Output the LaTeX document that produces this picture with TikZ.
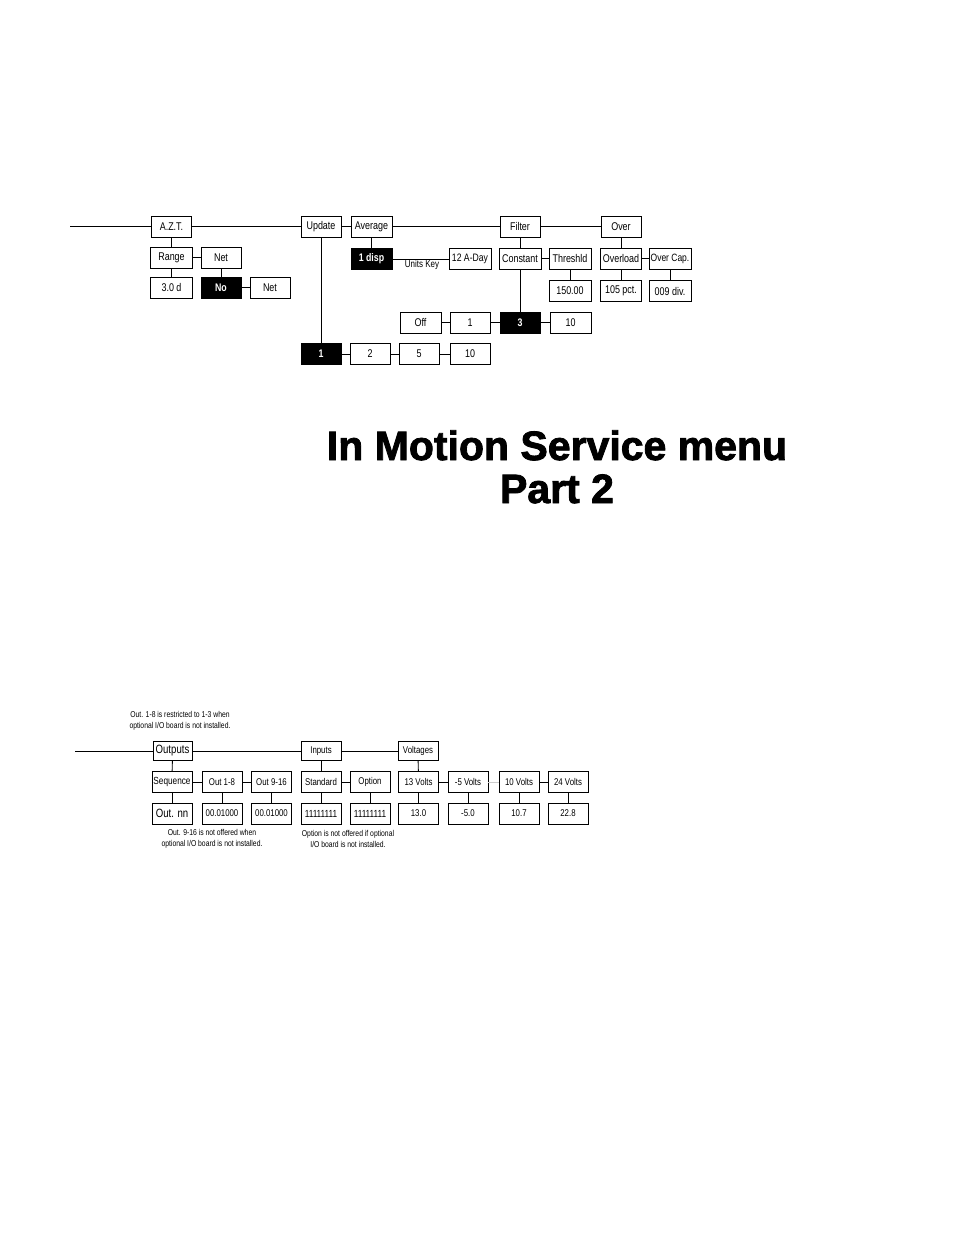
\documentclass[tikz,border=0pt]{standalone}
\usepackage{fontspec}
\setmainfont{Liberation Sans}
\newfontfamily\cond[FakeStretch=0.8]{Liberation Sans}
\newfontfamily\heavy[BoldFeatures={FakeBold=2}]{Liberation Sans}
\begin{document}
\begin{tikzpicture}[x=1pt,y=-1pt,
  bx/.style={draw, line width=0.9pt, minimum width=40pt, minimum height=21pt, inner sep=0pt, font=\cond\fontsize{11.2}{12}\selectfont},
  sbx/.style={bx, font=\cond\fontsize{9.8}{11}\selectfont},
  blk/.style={bx, fill=black, text=white, font=\cond\bfseries\fontsize{11}{12}\selectfont},
  ln/.style={line width=0.9pt},
  note/.style={align=center, inner sep=0pt, font=\cond\fontsize{8.5}{11}\selectfont}]
\useasboundingbox (0,0) rectangle (954,1235);
% ---------- top diagram ----------
\coordinate (l1) at (70,226.5);
\node[bx] (azt) at (171.5,226.5) {A.Z.T.};
\node[bx] (upd) at (321,226.5) {Update};
\node[bx,minimum width=41pt] (avg) at (371.5,226.5) {Average};
\node[bx] (flt) at (520,226.5) {Filter};
\node[bx] (ovr) at (621,226.5) {Over};
\node[bx,minimum width=42pt] (rng) at (171.5,257.5) {Range};
\node[bx] (net1) at (221,257.5) {Net};
\node[blk,minimum width=41pt] (disp) at (371.5,259) {1 disp};
\node[bx,minimum width=42pt,font=\cond\fontsize{10.8}{12}\selectfont] (aday) at (470,259) {12 A-Day};
\node[bx,minimum width=42pt] (cst) at (520,258.5) {Constant};
\node[bx,minimum width=42pt] (thr) at (570,258.5) {Threshld};
\node[bx,minimum width=41pt] (ovl) at (621,258.5) {Overload};
\node[bx,minimum width=42pt,font=\cond\fontsize{10.6}{12}\selectfont] (ocap) at (670,258.5) {Over Cap.};
\node[bx,minimum width=42pt] (d30) at (171.5,287.5) {3.0 d};
\node[blk] (no) at (221,287.5) {No};
\node[bx] (net2) at (270,287.5) {Net};
\node[bx,minimum width=42pt] (v150) at (570,290.5) {150.00};
\node[bx,minimum width=41pt] (pct) at (621,291) {105 pct.};
\node[bx,minimum width=42pt] (div) at (670,291) {009 div.};
\node[bx,minimum width=41pt] (off) at (420.5,322.5) {Off};
\node[bx] (f1) at (470,322.5) {1};
\node[blk] (f3) at (520,322.5) {3};
\node[bx,minimum width=41pt] (f10) at (570.5,322.5) {10};
\node[blk] (u1) at (321,354) {1};
\node[bx] (u2) at (370,354) {2};
\node[bx] (u5) at (419,354) {5};
\node[bx] (u10) at (470,354) {10};
\node[font=\cond\fontsize{10}{12}\selectfont, inner sep=0pt] (uk) at (422,265) {Units Key};
\foreach \a/\b in {l1/azt, azt/upd, upd/avg, avg/flt, flt/ovr, azt/rng, rng/net1, net1/no, rng/d30, no/net2,
  upd/u1, u1/u2, u2/u5, u5/u10, avg/disp, disp/aday, flt/cst, cst/thr, thr/v150, cst/f3,
  off/f1, f1/f3, f3/f10, ovr/ovl, ovl/ocap, ovl/pct, ocap/div}
  \draw[ln] (\a) -- (\b);
% ---------- title ----------
\node[font=\heavy\bfseries\fontsize{41}{43}\selectfont, anchor=base, inner sep=0pt] (t1) at (557,460) {In Motion Service menu};
\node[font=\heavy\bfseries\fontsize{41}{43}\selectfont, anchor=base, inner sep=0pt] (t2) at (557,503) {Part 2};
% ---------- bottom diagram ----------
\node[note] (n1) at (180,720.5) {Out. 1-8 is restricted to 1-3 when\\optional I/O board is not installed.};
\coordinate (l2) at (75,751);
\node[bx,minimum width=39pt,minimum height=19pt,font=\cond\fontsize{12}{13}\selectfont] (outp) at (172.5,751) {Outputs};
\node[sbx,minimum height=19pt] (inp) at (321,751) {Inputs};
\node[sbx,minimum height=19pt] (volt) at (418,751) {Voltages};
\node[sbx,font=\cond\fontsize{10.3}{11}\selectfont] (seq) at (172,782) {Sequence};
\node[sbx] (o18) at (222,782) {Out 1-8};
\node[sbx] (o916) at (271.5,782) {Out 9-16};
\node[sbx] (std) at (321,782) {Standard};
\node[sbx] (opt) at (370,782) {Option};
\node[sbx] (v13) at (418.5,782) {13 Volts};
\node[sbx] (vm5) at (468,782) {-5 Volts};
\node[sbx] (v10) at (519,782) {10 Volts};
\node[sbx] (v24) at (568,782) {24 Volts};
\node[bx,font=\cond\fontsize{12}{13}\selectfont] (onn) at (172,813.5) {Out. nn};
\node[sbx] (d1) at (222,813.5) {00.01000};
\node[sbx] (d2) at (271.5,813.5) {00.01000};
\node[sbx,font=\cond\fontsize{10.3}{11}\selectfont] (b1) at (321,813.5) {11111111};
\node[sbx,font=\cond\fontsize{10.3}{11}\selectfont] (b2) at (370,813.5) {11111111};
\node[sbx] (r13) at (418.5,813.5) {13.0};
\node[sbx] (rm5) at (468,813.5) {-5.0};
\node[sbx] (r107) at (519,813.5) {10.7};
\node[sbx] (r228) at (568,813.5) {22.8};
\node[note] (n2) at (212,838.5) {Out. 9-16 is not offered when\\optional I/O board is not installed.};
\node[note] (n3) at (348,838.5) {Option is not offered if optional\\I/O board is not installed.};
\foreach \a/\b in {l2/outp, outp/inp, inp/volt, outp/seq, seq/o18, o18/o916, seq/onn, o18/d1, o916/d2,
  inp/std, std/opt, std/b1, opt/b2, volt/v13, v13/vm5, v10/v24, v13/r13, vm5/rm5, v10/r107, v24/r228}
  \draw[ln] (\a) -- (\b);
\draw[line width=0.9pt, black!20] (vm5) -- (v10);
\end{tikzpicture}
\end{document}
